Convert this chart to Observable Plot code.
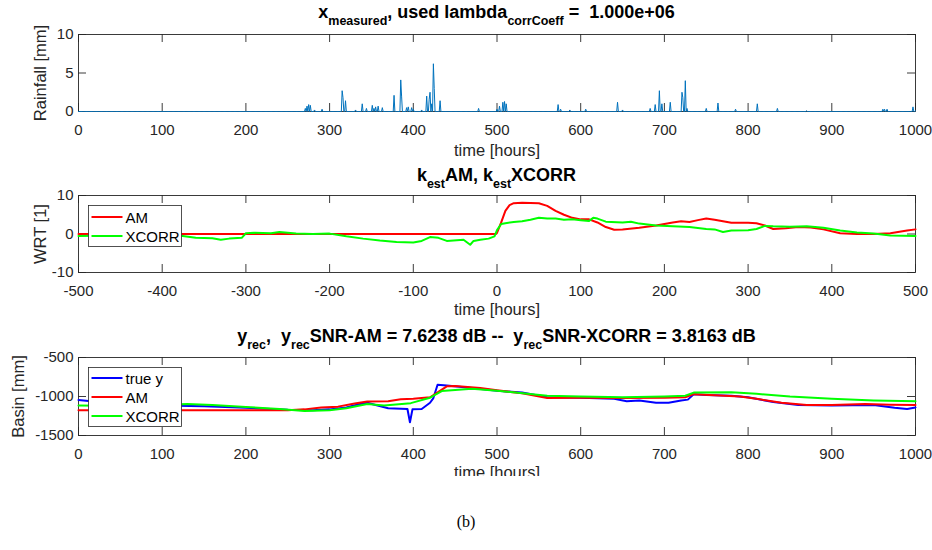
<!DOCTYPE html>
<html><head><meta charset="utf-8">
<script src="https://cdn.jsdelivr.net/npm/d3@7"></script>
<script src="https://cdn.jsdelivr.net/npm/@observablehq/plot@0.6"></script>
<style>
body{margin:0;background:#fff;}
#fig{position:relative;width:932px;height:550px;background:#fff;font-family:"Liberation Sans",Arial,sans-serif;}
.panel{position:absolute;left:0;overflow:hidden;width:932px;}
#overlay{position:absolute;left:0;top:0;}
#overlay text{white-space:pre;}
</style></head><body><div id="fig"></div>
<script>
// ---------------- data ----------------
// rainfall events [hour, mm] (zero elsewhere)
const rainEvents = [
  [271,0.4],[273,0.7],[275,0.9],[277,0.8],[282,0.2],[291,0.3],
  [315,2.7],[316,1.8],[319,1.4],[331,0.2],[339,1.0],[344,0.4],[351,0.8],[353,0.4],[355,0.6],[358,0.7],[363,0.5],
  [377,2.1],[385,4.1],[386,2.0],[392,0.5],[394,0.6],[398,0.5],[400,0.3],[410,0.2],
  [416,2.0],[419,1.6],[420,2.5],[422,1.0],[424,6.2],[425,3.0],[432,1.4],
  [478,0.4],[500,0.3],[503,0.7],[507,1.2],[509,1.3],[511,1.0],
  [573,0.9],[576,0.3],[587,0.2],[606,0.3],
  [644,1.2],[650,0.2],[683,0.4],[689,0.9],[694,2.7],[697,1.0],[707,1.2],[721,2.5],[722,1.8],[725,4.0],[727,0.4],
  [750,0.4],[764,1.1],[785,0.3],[811,1.0],[835,0.4],[870,0.1],[961,0.3],[963,0.3],[966,0.3],[997,0.6],[1000,0.1]
];
const hourTicks = [0,100,200,300,400,500,600,700,800,900,1000];
const rainTicks = [0,5,10];
const lagTicks = [-500,-400,-300,-200,-100,0,100,200,300,400,500];
const wrtTicks = [-10,0,10];
const basinTicks = [-1500,-1000,-500];

// k_est AM  [lag, value]
const kAM = [[-500,0],[-1,0],[0,0.3],[5,3],[10,6],[15,7.5],[20,8],[30,8.1],[50,8],[60,7.3],[70,6],[80,5],[90,4.2],[100,3.8],
  [110,3.8],[120,3],[130,1.8],[140,1.1],[150,1.2],[170,1.6],[190,2.2],[210,3],[220,3.3],[230,3.1],[240,3.6],[250,4],
  [260,3.7],[280,2.9],[300,2.9],[310,2.8],[320,2.2],[330,1.3],[345,1.5],[360,1.8],[375,1.7],[390,1.2],[410,0.2],
  [430,0],[450,0],[470,0.2],[490,0.9],[500,1.2]];
// k_est XCORR [lag, value]
const kXCORR = [[-500,-0.5],[-450,-0.4],[-400,-0.2],[-380,-0.4],[-360,-1],[-340,-1.1],[-330,-1.5],[-320,-1.2],[-305,-1],[-300,0.2],
  [-290,0.3],[-270,0.2],[-260,0.5],[-240,0.1],[-220,0],[-200,0.1],[-180,-0.6],[-160,-1.2],[-140,-1.7],[-120,-2.1],
  [-100,-2.2],[-90,-1.8],[-80,-0.8],[-70,-1],[-60,-1.8],[-40,-1.5],[-32,-2.8],[-28,-1.8],[-20,-1.5],[-10,-1.2],
  [-3,-0.6],[0,1],[5,2.6],[10,2.8],[20,3.1],[30,3.3],[40,3.7],[50,4.2],[60,4],[70,4],
  [80,3.7],[90,3.8],[100,3.6],[110,3.4],[115,4.2],[120,4],[130,3.2],[150,3],[160,3.2],[170,2.7],
  [190,2.2],[210,2],[230,1.8],[250,1.3],[260,1.2],[270,0.5],[280,0.9],[300,1.0],[310,1.3],[320,2.1],
  [330,2.0],[350,1.9],[370,2.0],[390,1.6],[410,0.9],[430,0.4],[450,0.1],[470,-0.4],[500,-0.5]];

// basin [hour, mm]
const yTrue = [[0,-1045],[15,-1060],[30,-1095],[60,-1105],[100,-1115],[150,-1125],[200,-1145],[250,-1170],[280,-1175],[300,-1165],
  [320,-1140],[335,-1100],[345,-1080],[355,-1110],[370,-1150],[393,-1160],[396,-1330],[399,-1165],[410,-1160],[420,-1080],
  [424,-1020],[429,-850],[440,-860],[470,-890],[500,-925],[530,-950],[560,-1010],[600,-1015],[640,-1030],[655,-1060],
  [670,-1050],[690,-1080],[705,-1080],[720,-1050],[728,-1040],[735,-970],[750,-980],[780,-990],[800,-1010],[830,-1070],
  [860,-1110],[900,-1115],[950,-1110],[975,-1145],[990,-1160],[1000,-1140]];
const yAM = [[0,-1175],[250,-1175],[270,-1165],[290,-1140],[310,-1130],[330,-1090],[345,-1065],[370,-1060],[385,-1035],[400,-1030],
  [420,-1010],[430,-940],[440,-870],[450,-865],[480,-890],[500,-920],[530,-960],[560,-1020],[600,-1015],[650,-1020],
  [700,-1015],[725,-1010],[735,-970],[760,-985],[790,-1000],[810,-1030],[840,-1080],[870,-1110],[900,-1110],[940,-1095],
  [970,-1105],[1000,-1110]];
const yXCORR = [[0,-1115],[30,-1120],[80,-1115],[130,-1095],[160,-1110],[200,-1135],[240,-1160],[270,-1185],[300,-1175],[320,-1150],
  [345,-1095],[365,-1115],[397,-1085],[420,-1015],[434,-930],[470,-900],[500,-925],[560,-990],[600,-1000],[650,-1010],
  [700,-1000],[725,-990],[735,-950],[780,-945],[810,-965],[850,-1000],[900,-1030],[950,-1050],[1000,-1060]];

// hourly rainfall table built from the events
const rainfall = d3.range(0, 1001).map(h => ({h, v: 0}));
rainEvents.forEach(([h, v]) => { rainfall[h].v = v; });

// ---------------- drawing ----------------
const AX = "#262626";
const FONT = "'Liberation Sans', Arial, sans-serif";
const PLOT_W = 932, ML = 78, MR = 17;
const fig = document.getElementById("fig");

function panel({top, height, mt, mb, xDomain, yDomain, xTicks, yTicks, xLabel, yLabel, xLabelDy, yLabelDx, marks}) {
  const ph = height - mt - mb, pw = PLOT_W - ML - MR;
  const tlx = 8 / ph * (yDomain[1] - yDomain[0]);
  const tly = 8 / pw * (xDomain[1] - xDomain[0]);
  const svg = Plot.plot({
    width: PLOT_W, height, marginTop: mt, marginBottom: mb, marginLeft: ML, marginRight: MR,
    x: {domain: xDomain}, y: {domain: yDomain},
    style: {fontFamily: FONT, fontSize: "15px", color: AX, background: "transparent", overflow: "visible"},
    marks: [
      Plot.frame({stroke: AX, strokeWidth: 0.9}),
      Plot.ruleX(xTicks, {x: d => d, y1: yDomain[0], y2: yDomain[0] + tlx, stroke: AX, strokeWidth: 0.9}),
      Plot.ruleX(xTicks, {x: d => d, y1: yDomain[1], y2: yDomain[1] - tlx, stroke: AX, strokeWidth: 0.9}),
      Plot.ruleY(yTicks, {y: d => d, x1: xDomain[0], x2: xDomain[0] + tly, stroke: AX, strokeWidth: 0.9}),
      Plot.ruleY(yTicks, {y: d => d, x1: xDomain[1], x2: xDomain[1] - tly, stroke: AX, strokeWidth: 0.9}),
      ...marks,
      Plot.axisX({ticks: xTicks, tickSize: 0, tickPadding: 13, label: null, tickFormat: d => String(d), fill: AX}),
      Plot.axisY({ticks: yTicks, tickSize: 0, tickPadding: 5, label: null, tickFormat: d => String(d), fill: AX}),
      Plot.text([xLabel], {text: d => d, frameAnchor: "bottom", dy: xLabelDy, lineAnchor: "middle", textAnchor: "middle", fontSize: 16.5, fill: AX}),
      Plot.text([yLabel], {text: d => d, frameAnchor: "left", dx: yLabelDx, rotate: -90, lineAnchor: "middle", textAnchor: "middle", fontSize: 16.5, fill: AX})
    ]
  });
  const wrap = document.createElement("div");
  wrap.className = "panel";
  wrap.style.top = top + "px";
  wrap.style.height = height + "px";
  wrap.appendChild(svg);
  fig.appendChild(wrap);
}

panel({top: 0, height: 160, mt: 34, mb: 49, xDomain: [0, 1000], yDomain: [0, 10],
  xTicks: hourTicks, yTicks: rainTicks, xLabel: "time [hours]", yLabel: "Rainfall [mm]", xLabelDy: 39, yLabelDx: -38,
  marks: [Plot.line(rainfall, {x: "h", y: "v", stroke: "#0072BD", strokeWidth: 1})]});

panel({top: 160, height: 160, mt: 35, mb: 48, xDomain: [-500, 500], yDomain: [-10, 10],
  xTicks: lagTicks, yTicks: wrtTicks, xLabel: "time [hours]", yLabel: "WRT [1]", xLabelDy: 37, yLabelDx: -38,
  marks: [
    Plot.line(kAM, {x: d => d[0], y: d => d[1], stroke: "#ff0000", strokeWidth: 2}),
    Plot.line(kXCORR, {x: d => d[0], y: d => d[1], stroke: "#00ff00", strokeWidth: 2})
  ]});

panel({top: 320, height: 156, mt: 37, mb: 41, xDomain: [0, 1000], yDomain: [-1500, -500],
  xTicks: hourTicks, yTicks: basinTicks, xLabel: "time [hours]", yLabel: "Basin [mm]", xLabelDy: 37, yLabelDx: -60,
  marks: [
    Plot.line(yTrue, {x: d => d[0], y: d => d[1], stroke: "#0000ff", strokeWidth: 2}),
    Plot.line(yAM, {x: d => d[0], y: d => d[1], stroke: "#ff0000", strokeWidth: 2}),
    Plot.line(yXCORR, {x: d => d[0], y: d => d[1], stroke: "#00ff00", strokeWidth: 2})
  ]});

// ---------------- overlay: titles, legends, caption ----------------
const ov = d3.select(fig).append("svg").attr("id", "overlay")
  .attr("width", 932).attr("height", 550).style("font-family", FONT);

function title(y, parts) {
  const t = ov.append("text").attr("x", ML + (PLOT_W - ML - MR) / 2).attr("y", y)
    .attr("text-anchor", "middle").attr("font-weight", "bold").attr("font-size", 18).attr("fill", "#000");
  let sub = false;
  parts.forEach(([s, isSub]) => {
    const ts = t.append("tspan").text(s);
    if (isSub && !sub) { ts.attr("dy", 6.5).attr("font-size", 12.5); sub = true; }
    else if (isSub) { ts.attr("font-size", 12.5); }
    else if (sub) { ts.attr("dy", -6.5); sub = false; }
  });
}
title(18, [["x"], ["measured", 1], [", used lambda"], ["corrCoeff", 1], [" =  1.000e+06"]]);
title(181, [["k"], ["est", 1], ["AM, k"], ["est", 1], ["XCORR"]]);
title(342, [["y"], ["rec", 1], [",  y"], ["rec", 1], ["SNR-AM = 7.6238 dB --  y"], ["rec", 1], ["SNR-XCORR = 3.8163 dB"]]);

function legend(x, y, w, h, items) {
  ov.append("rect").attr("x", x).attr("y", y).attr("width", w).attr("height", h)
    .attr("fill", "#fff").attr("stroke", AX).attr("stroke-width", 0.8);
  items.forEach(([label, color, ly]) => {
    ov.append("line").attr("x1", x + 3).attr("x2", x + 34).attr("y1", ly).attr("y2", ly)
      .attr("stroke", color).attr("stroke-width", 2);
    ov.append("text").attr("x", x + 37).attr("y", ly + 5.5).attr("font-size", 15).attr("fill", "#000").text(label);
  });
}
legend(88.5, 205.5, 93, 41, [["AM", "#ff0000", 217], ["XCORR", "#00ff00", 236]]);
legend(88.5, 367.5, 93, 59, [["true y", "#0000ff", 378], ["AM", "#ff0000", 397], ["XCORR", "#00ff00", 416]]);

ov.append("text").attr("x", 466).attr("y", 527).attr("text-anchor", "middle")
  .attr("font-family", "'Liberation Serif', 'Times New Roman', serif").attr("font-size", 16).text("(b)");
</script></body></html>
